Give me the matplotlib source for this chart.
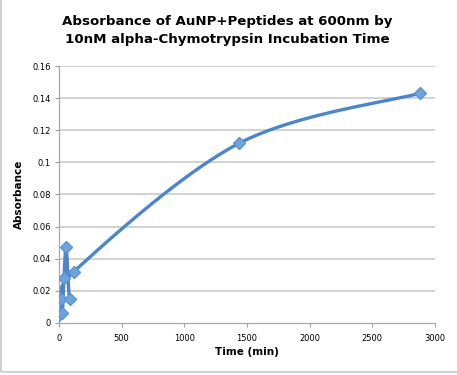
import numpy as np
import matplotlib
matplotlib.use("Agg")
import matplotlib.pyplot as plt
from matplotlib.patches import Rectangle

# incubation time (min) and absorbance at 600nm
time_min = [0, 15, 27, 40, 58, 85, 120, 1440, 2880]
absorbance = [0.005, 0.015, 0.006, 0.028, 0.047, 0.015, 0.032, 0.112, 0.143]

x_ticks = [0, 500, 1000, 1500, 2000, 2500, 3000]
y_ticks = [0, 0.02, 0.04, 0.06, 0.08, 0.1, 0.12, 0.14, 0.16]
y_labels = ["0", "0.02", "0.04", "0.06", "0.08", "0.1", "0.12", "0.14", "0.16"]


def smooth(xs, ys, sx, sy, n=40):
    # Excel-like smoothed line: Catmull-Rom bezier in screen-ish units
    p = np.column_stack([np.array(xs) / sx, np.array(ys) / sy])
    out = [p[0]]
    for i in range(len(p) - 1):
        p0 = p[i - 1] if i > 0 else p[i]
        p1, p2 = p[i], p[i + 1]
        p3 = p[i + 2] if i + 2 < len(p) else p[i + 1]
        c1 = p1 + (p2 - p0) / 6
        c2 = p2 - (p3 - p1) / 6
        t = np.linspace(0, 1, n)[1:, None]
        seg = ((1 - t) ** 3) * p1 + 3 * ((1 - t) ** 2) * t * c1 + 3 * (1 - t) * t ** 2 * c2 + t ** 3 * p2
        out.extend(seg)
    out = np.array(out)
    return out[:, 0] * sx, out[:, 1] * sy


fig = plt.figure(figsize=(4.57, 3.75), dpi=100)
ax = fig.add_axes([0.129, 0.139, 0.823, 0.685])

# chart frame
fig.patches.append(Rectangle((0.002, 0.008), 1.2, 1.2, transform=fig.transFigure,
                             fill=False, edgecolor="#c8c8c8", linewidth=1.2))

for y in y_ticks[1:]:
    ax.axhline(y, color="#c6c6c6", linewidth=1.1, zorder=0)

sx, sy = smooth(time_min, absorbance, 3000 / 376.0, 0.16 / 257.0)
ax.plot(sx, sy, color="#4a86c8", linewidth=2.4, solid_capstyle="round", zorder=2)
ax.plot(time_min, absorbance, linestyle="none", marker="D", markersize=6.5,
        markerfacecolor="#6fa3de", markeredgecolor="#5b93d3", zorder=3)

ax.set_xlim(0, 3000)
ax.set_ylim(0, 0.16)
ax.set_xticks(x_ticks)
ax.set_yticks(y_ticks)
ax.set_yticklabels(y_labels)
ax.tick_params(axis="both", labelsize=6, length=3, width=0.8, color="#a0a0a0", pad=3)
ax.tick_params(axis="x", pad=5)

for side in ["top", "right"]:
    ax.spines[side].set_visible(False)
for side in ["left", "bottom"]:
    ax.spines[side].set_color("#a8a8a8")
    ax.spines[side].set_linewidth(0.9)

ax.set_xlabel("Time (min)", fontsize=7.5, fontweight="bold", labelpad=3)
ax.set_ylabel("Absorbance", fontsize=7.5, fontweight="bold", labelpad=6)

fig.text(0.497, 0.918, "Absorbance of AuNP+Peptides at 600nm by\n10nM alpha-Chymotrypsin Incubation Time",
         ha="center", va="center", fontsize=9.6, fontweight="bold", linespacing=1.45)

fig.savefig("out.png", dpi=100)
